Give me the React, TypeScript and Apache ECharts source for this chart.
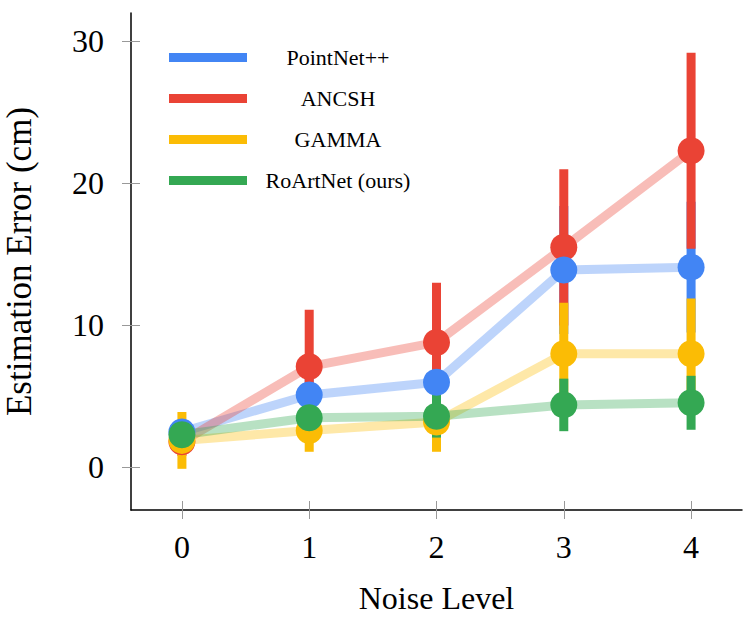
import React, { useEffect, useRef } from "react";
import * as echarts from "echarts";

const noiseLevels = [0, 1, 2, 3, 4];
const seriesNames = ["PointNet++", "ANCSH", "GAMMA", "RoArtNet (ours)"];
const seriesColors = ["#4285F4", "#EA4335", "#FBBC05", "#34A853"];

const pointNetMean = [2.5, 5.1, 6.0, 13.9, 14.1];
const pointNetErr = [0.6, 1.5, 2.5, 4.5, 4.6];
const ancshMean = [1.8, 7.1, 8.8, 15.5, 22.3];
const ancshErr = [1.0, 4.0, 4.2, 5.5, 6.9];
const gammaMean = [1.9, 2.6, 3.2, 8.0, 8.0];
const gammaErr = [2.0, 1.5, 2.1, 3.6, 3.9];
const roArtNetMean = [2.3, 3.5, 3.6, 4.4, 4.55];
const roArtNetErr = [0.5, 1.0, 1.5, 1.85, 1.9];

const yTicks = [0, 10, 20, 30];

const means = [pointNetMean, ancshMean, gammaMean, roArtNetMean];
const errs = [pointNetErr, ancshErr, gammaErr, roArtNetErr];
// drawing order of markers (bottom -> top): ANCSH, GAMMA, PointNet++, RoArtNet
const markerZ = [8, 6, 7, 9];

const FONT = "Liberation Serif";

export default function App() {
  const ref = useRef<HTMLDivElement>(null);

  useEffect(() => {
    if (!ref.current) return;
    const chart = echarts.init(ref.current, null, { renderer: "svg" });

    const series: any[] = [];
    means.forEach((m, i) => {
      series.push({
        type: "line",
        name: seriesNames[i] + " line",
        data: noiseLevels.map((x, k) => [x, m[k]]),
        showSymbol: false,
        symbol: "none",
        lineStyle: { color: seriesColors[i], width: 9, opacity: 0.35 },
        z: 1,
        silent: true,
      });
    });
    means.forEach((m, i) => {
      series.push({
        type: "custom",
        name: seriesNames[i] + " err",
        data: noiseLevels.map((x, k) => [x, m[k] - errs[i][k], m[k] + errs[i][k]]),
        renderItem: (_params: any, api: any) => {
          const p1 = api.coord([api.value(0), api.value(1)]);
          const p2 = api.coord([api.value(0), api.value(2)]);
          return {
            type: "line",
            shape: { x1: p1[0], y1: p1[1], x2: p2[0], y2: p2[1] },
            style: { stroke: seriesColors[i], lineWidth: 9 },
          };
        },
        z: 2 + i,
        silent: true,
      });
    });
    means.forEach((m, i) => {
      series.push({
        type: "scatter",
        name: seriesNames[i],
        data: noiseLevels.map((x, k) => [x, m[k]]),
        symbol: "circle",
        symbolSize: 27,
        itemStyle: { color: seriesColors[i], opacity: 1 },
        z: markerZ[i],
        silent: true,
      });
    });

    const legendRows = [57.5, 98.5, 139.5, 180.5];
    const graphics: any[] = [];
    seriesNames.forEach((name, i) => {
      graphics.push({
        type: "rect",
        shape: { x: 169, y: legendRows[i] - 4.5, width: 78, height: 9 },
        style: { fill: seriesColors[i] },
      });
      graphics.push({
        type: "text",
        x: 338,
        y: legendRows[i],
        style: {
          text: name,
          fontFamily: FONT,
          fontSize: 22,
          fill: "#000",
          textAlign: "center",
          textVerticalAlign: "middle",
        },
      });
    });

    const xAxisBase = {
      type: "value",
      min: -0.4,
      max: 4.4,
      position: "bottom",
      splitLine: { show: false },
    };
    const yAxisBase = {
      type: "value",
      min: -3,
      max: 32,
      position: "left",
      splitLine: { show: false },
    };

    chart.setOption({
      animation: false,
      backgroundColor: "#fff",
      textStyle: { fontFamily: FONT },
      grid: {
        left: 131,
        right: 10,
        top: 13,
        bottom: 107,
        containLabel: false,
        outerBoundsMode: "none",
      },
      xAxis: [
        {
          ...xAxisBase,
          axisLine: { show: true, onZero: false, lineStyle: { color: "#000", width: 1.5 } },
          axisTick: {
            show: true,
            customValues: noiseLevels,
            length: 9,
            inside: false,
            lineStyle: { color: "#999", width: 1 },
          },
          axisLabel: {
            customValues: noiseLevels,
            fontFamily: FONT,
            fontSize: 32,
            color: "#000",
            margin: 21,
          },
          name: "Noise Level",
          nameLocation: "middle",
          nameGap: 72,
          nameTextStyle: { fontFamily: FONT, fontSize: 32, color: "#000" },
        },
        {
          ...xAxisBase,
          axisLine: { show: false, onZero: false },
          axisTick: {
            show: true,
            customValues: noiseLevels,
            length: 9,
            inside: true,
            lineStyle: { color: "#999", width: 1 },
          },
          axisLabel: { show: false },
        },
      ],
      yAxis: [
        {
          ...yAxisBase,
          axisLine: { show: true, onZero: false, lineStyle: { color: "#000", width: 1.5 } },
          axisTick: {
            show: true,
            customValues: yTicks,
            length: 9,
            inside: false,
            lineStyle: { color: "#999", width: 1 },
          },
          axisLabel: {
            customValues: yTicks,
            fontFamily: FONT,
            fontSize: 32,
            color: "#000",
            margin: 27,
          },
          name: "Estimation Error (cm)",
          nameLocation: "middle",
          nameGap: 94,
          nameTextStyle: { fontFamily: FONT, fontSize: 35, color: "#000" },
        },
        {
          ...yAxisBase,
          axisLine: { show: false, onZero: false },
          axisTick: {
            show: true,
            customValues: yTicks,
            length: 9,
            inside: true,
            lineStyle: { color: "#999", width: 1 },
          },
          axisLabel: { show: false },
        },
      ],
      series,
      graphic: graphics,
    });

    return () => chart.dispose();
  }, []);

  return (
    <div
      ref={ref}
      style={{ position: "fixed", left: 0, top: 0, width: 752, height: 617 }}
    />
  );
}
